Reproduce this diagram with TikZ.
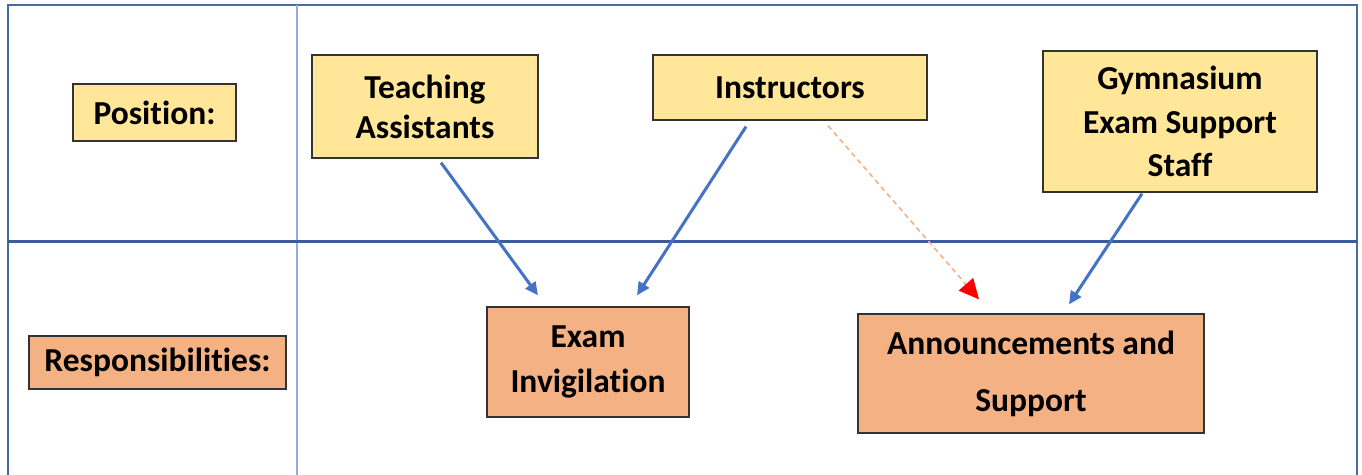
\documentclass[tikz,border=0pt]{standalone}
\usepackage{fontspec}
\setmainfont{Carlito}[Ligatures={NoCommon}]
\usetikzlibrary{arrows.meta,calc}
\definecolor{posfill}{HTML}{FFE699}
\definecolor{respfill}{HTML}{F4B183}
\definecolor{framecol}{HTML}{4A6AA5}
\definecolor{midline}{HTML}{3A5C99}
\definecolor{divcol}{HTML}{94ACE6}
\definecolor{arrowblue}{HTML}{4472C4}
\definecolor{dashcol}{HTML}{F4B183}
\newcommand\myfs[1]{\fontsize{33.5}{#1}\selectfont\bfseries}
\tikzset{
  posbox/.style={draw=black!80, line width=1.3pt, fill=posfill, align=center, inner sep=0pt},
  respbox/.style={draw=black!80, line width=1.3pt, fill=respfill, align=center, inner sep=0pt},
  bluearrow/.style={draw=arrowblue, line width=3pt, -{Triangle[length=13pt,width=12pt]}},
  dasharrow/.style={draw=dashcol, line width=1.6pt, dash pattern=on 5pt off 4pt, -{Triangle[length=20pt,width=19pt,fill=red,color=red]}}
}
\begin{document}
\begin{tikzpicture}[x=1pt,y=-1pt]
\clip (0,0) rectangle (1362,474);
\fill[white] (0,0) rectangle (1362,474);
% frame
\draw[framecol, line width=2.5pt] (8,5) rectangle (1357,490);
\draw[divcol, line width=1.5pt] (297,5) -- (297,490);
\draw[midline, line width=3pt] (8,241) -- (1357,241);
% labels
\node[posbox, minimum width=163pt, minimum height=57pt, font=\myfs{40}] (pos) at (154.5,112.5) {Position:};
\node[respbox, minimum width=257pt, minimum height=53pt, font=\myfs{40}] (resp) at (157.5,362.5) {Responsibilities:};
% positions
\node[posbox, minimum width=226pt, minimum height=103pt, font=\myfs{40}] (ta) at (425,106.5) {Teaching\\Assistants};
\node[posbox, minimum width=274pt, minimum height=65pt, font=\myfs{40}] (ins) at (790,87.5) {Instructors};
\node[posbox, minimum width=274pt, minimum height=141pt, font=\myfs{43.5}] (gym) at (1180,121.5) {Gymnasium\\Exam Support\\Staff};
% responsibilities
\node[respbox, minimum width=202pt, minimum height=110pt, font=\myfs{45}] (exam) at (588,362) {Exam\\Invigilation};
\node[respbox, minimum width=346pt, minimum height=119pt, font=\myfs{57}] (ann) at (1031,373.5) {Announcements and\\Support};
% connectors
\draw[bluearrow] ($(ta.south)+(16,4)$) -- ($(exam.north)+(-50,-11)$);
\draw[bluearrow] ($(ins.south)+(-44,6)$) -- ($(exam.north)+(49,-11)$);
\draw[dasharrow] ($(ins.south)+(38,5)$) -- ($(ann.north)+(-52,-14)$);
\draw[bluearrow] ($(gym.south)+(-38,1)$) -- ($(ann.north)+(38,-9)$);
\end{tikzpicture}
\end{document}
